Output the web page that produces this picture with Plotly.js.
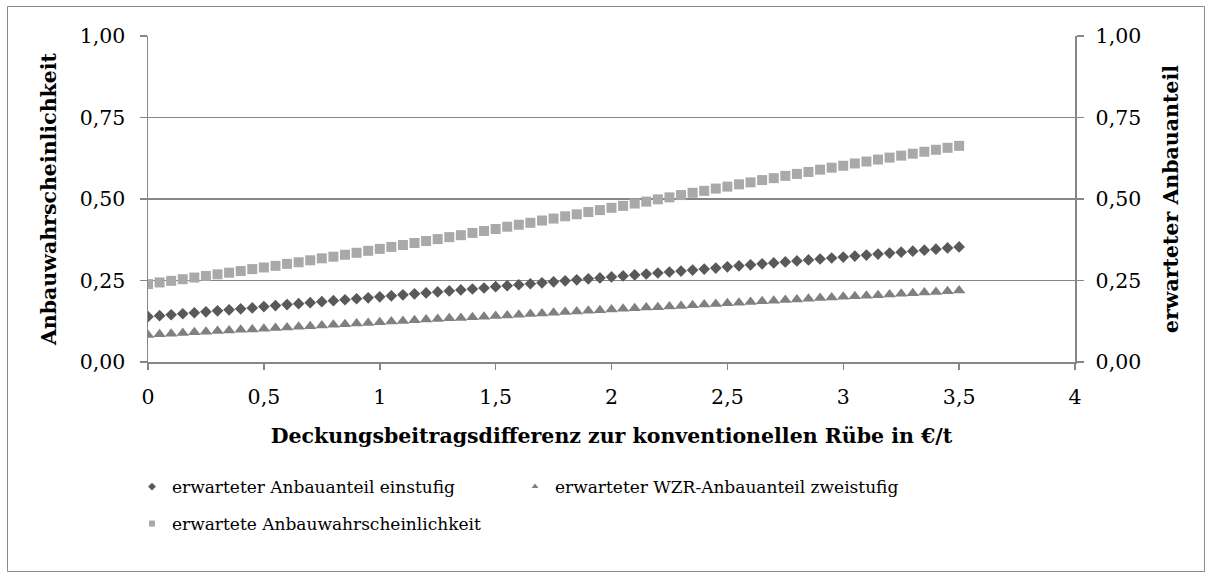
<!DOCTYPE html>
<html>
<head>
<meta charset="utf-8">
<script src="https://cdn.plot.ly/plotly-3.0.1.min.js"></script>
<style>html,body{margin:0;padding:0;background:#fff;}#chart{width:1212px;height:578px;}</style>
</head>
<body>
<div id="chart"></div>
<script>
// x: Deckungsbeitragsdifferenz (€/t)
const xValues = [0,0.05,0.1,0.15,0.2,0.25,0.3,0.35,0.4,0.45,0.5,0.55,0.6,0.65,0.7,0.75,0.8,0.85,0.9,0.95,
  1,1.05,1.1,1.15,1.2,1.25,1.3,1.35,1.4,1.45,1.5,1.55,1.6,1.65,1.7,1.75,1.8,1.85,1.9,1.95,
  2,2.05,2.1,2.15,2.2,2.25,2.3,2.35,2.4,2.45,2.5,2.55,2.6,2.65,2.7,2.75,2.8,2.85,2.9,2.95,
  3,3.05,3.1,3.15,3.2,3.25,3.3,3.35,3.4,3.45,3.5];

// erwarteter Anbauanteil einstufig (diamonds)
const einstufig = [0.139,0.142,0.145,0.148,0.151,0.154,0.157,0.160,0.163,0.166,0.170,0.173,0.176,0.179,0.182,0.185,0.188,0.191,0.194,0.197,
  0.200,0.203,0.206,0.209,0.212,0.215,0.218,0.221,0.224,0.227,0.231,0.234,0.237,0.240,0.243,0.246,0.249,0.252,0.255,0.258,
  0.261,0.264,0.267,0.270,0.273,0.276,0.279,0.282,0.285,0.288,0.292,0.295,0.298,0.301,0.304,0.307,0.310,0.313,0.316,0.319,
  0.322,0.325,0.328,0.331,0.334,0.337,0.340,0.343,0.346,0.350,0.353];

// erwarteter WZR-Anbauanteil zweistufig (triangles)
const zweistufig = [0.083,0.085,0.087,0.089,0.091,0.093,0.095,0.097,0.099,0.100,0.102,0.104,0.106,0.108,0.110,0.112,0.114,0.116,0.118,0.120,
  0.122,0.124,0.126,0.128,0.130,0.132,0.134,0.135,0.137,0.139,0.141,0.143,0.145,0.147,0.149,0.151,0.153,0.155,0.157,0.159,
  0.161,0.163,0.165,0.167,0.168,0.170,0.172,0.174,0.176,0.178,0.180,0.182,0.184,0.186,0.188,0.190,0.192,0.194,0.196,0.198,
  0.200,0.202,0.203,0.205,0.207,0.209,0.211,0.213,0.215,0.217,0.219];

// erwartete Anbauwahrscheinlichkeit (squares)
const wahrscheinlichkeit = [0.239,0.244,0.249,0.254,0.259,0.264,0.269,0.274,0.279,0.285,0.290,0.295,0.301,0.306,0.312,0.318,0.323,0.329,0.335,0.341,
  0.347,0.353,0.359,0.365,0.371,0.377,0.383,0.389,0.396,0.402,0.408,0.415,0.421,0.427,0.434,0.440,0.447,0.453,0.460,0.466,
  0.473,0.479,0.486,0.492,0.499,0.505,0.512,0.519,0.525,0.532,0.538,0.545,0.551,0.558,0.564,0.571,0.577,0.583,0.590,0.596,
  0.602,0.609,0.615,0.621,0.627,0.633,0.639,0.645,0.651,0.657,0.663];

const seriesNames = ['erwarteter Anbauanteil einstufig', 'erwarteter WZR-Anbauanteil zweistufig', 'erwartete Anbauwahrscheinlichkeit'];
const xTitle = 'Deckungsbeitragsdifferenz zur konventionellen Rübe in €/t';
const yTitleLeft = 'Anbauwahrscheinlichkeit';
const yTitleRight = 'erwarteter Anbauanteil';

const FONT = 'DejaVu Serif';
const GRID = '#868686';
const C1 = '#595959', C2 = '#808080', C3 = '#a9a9a9';

const traces = [
  {x: xValues, y: wahrscheinlichkeit, type: 'scatter', mode: 'markers', name: seriesNames[2], showlegend: false,
   marker: {symbol: 'square', size: 10, color: C3}, yaxis: 'y'},
  {x: xValues, y: einstufig, type: 'scatter', mode: 'markers', name: seriesNames[0], showlegend: false,
   marker: {symbol: 'diamond', size: 9, color: C1}, yaxis: 'y2'},
  {x: xValues, y: zweistufig, type: 'scatter', mode: 'markers', name: seriesNames[1], showlegend: false,
   marker: {symbol: 'triangle-up', size: 11, color: C2}, yaxis: 'y2'},
  // legend entries
  {x: [null], y: [null], type: 'scatter', mode: 'markers', name: seriesNames[0], legend: 'legend',
   marker: {symbol: 'diamond', size: 6, color: C1}},
  {x: [null], y: [null], type: 'scatter', mode: 'markers', name: seriesNames[1], legend: 'legend2',
   marker: {symbol: 'triangle-up', size: 6, color: C2}},
  {x: [null], y: [null], type: 'scatter', mode: 'markers', name: seriesNames[2], legend: 'legend3',
   marker: {symbol: 'square', size: 6, color: C3}}
];

const plotTop = 36, plotBottom = 362, plotLeft = 148, plotRight = 1075;
const pw = plotRight - plotLeft, ph = plotBottom - plotTop;
const px2x = v => (v - plotLeft) / pw;
const px2y = v => (plotBottom - v) / ph;

const tickFont = {family: FONT, size: 20.5, color: '#000'};
const titleFont = {family: FONT, size: 20.5, weight: 'bold', color: '#000'};
const legFont = {family: FONT, size: 17, color: '#000'};

const layout = {
  width: 1212, height: 578,
  margin: {l: plotLeft, r: 1212 - plotRight, t: plotTop, b: 578 - plotBottom, pad: 0},
  paper_bgcolor: '#ffffff', plot_bgcolor: '#ffffff',
  separators: ',.',
  font: {family: FONT, size: 20, color: '#000'},
  xaxis: {
    range: [0, 4], dtick: 0.5, tick0: 0, showgrid: false, zeroline: false,
    showline: true, linecolor: GRID, linewidth: 1.5,
    ticks: 'outside', ticklen: 6, tickcolor: GRID, tickwidth: 1.5, ticklabelstandoff: 10,
    tickfont: tickFont,
    title: {text: xTitle, font: titleFont, standoff: 20},
    automargin: false, fixedrange: true
  },
  yaxis: {
    range: [0, 1], dtick: 0.25, tick0: 0, tickformat: '.2f',
    showgrid: true, gridcolor: GRID, gridwidth: 1.5, zeroline: false,
    showline: true, linecolor: GRID, linewidth: 1.5,
    ticks: 'outside', ticklen: 7, tickcolor: GRID, tickwidth: 1.5, ticklabelstandoff: 10,
    tickfont: tickFont,
    title: {text: yTitleLeft, font: titleFont, standoff: 17},
    automargin: false, fixedrange: true
  },
  yaxis2: {
    range: [0, 1], dtick: 0.25, tick0: 0, tickformat: '.2f', overlaying: 'y', side: 'right',
    showgrid: false, zeroline: false,
    showline: true, linecolor: GRID, linewidth: 1.5,
    ticks: 'outside', ticklen: 7, tickcolor: GRID, tickwidth: 1.5, ticklabelstandoff: 8,
    tickfont: tickFont,
    title: {text: yTitleRight, font: titleFont, standoff: 23},
    automargin: false, fixedrange: true
  },
  legend: {
    orientation: 'h', x: px2x(132), xanchor: 'left', y: px2y(487), yanchor: 'middle',
    font: legFont, bgcolor: 'rgba(0,0,0,0)'
  },
  legend2: {
    orientation: 'h', x: px2x(515), xanchor: 'left', y: px2y(487), yanchor: 'middle',
    font: legFont, bgcolor: 'rgba(0,0,0,0)'
  },
  legend3: {
    orientation: 'h', x: px2x(132), xanchor: 'left', y: px2y(524), yanchor: 'middle',
    font: legFont, bgcolor: 'rgba(0,0,0,0)'
  },
  shapes: [{
    type: 'rect', xref: 'paper', yref: 'paper',
    x0: px2x(7.5), x1: px2x(1204.5), y0: px2y(571.5), y1: px2y(6.5),
    line: {color: '#8a8a8a', width: 1}, fillcolor: 'rgba(0,0,0,0)', layer: 'below'
  }]
};

Plotly.newPlot('chart', traces, layout, {displayModeBar: false, staticPlot: true});
</script>
</body>
</html>
